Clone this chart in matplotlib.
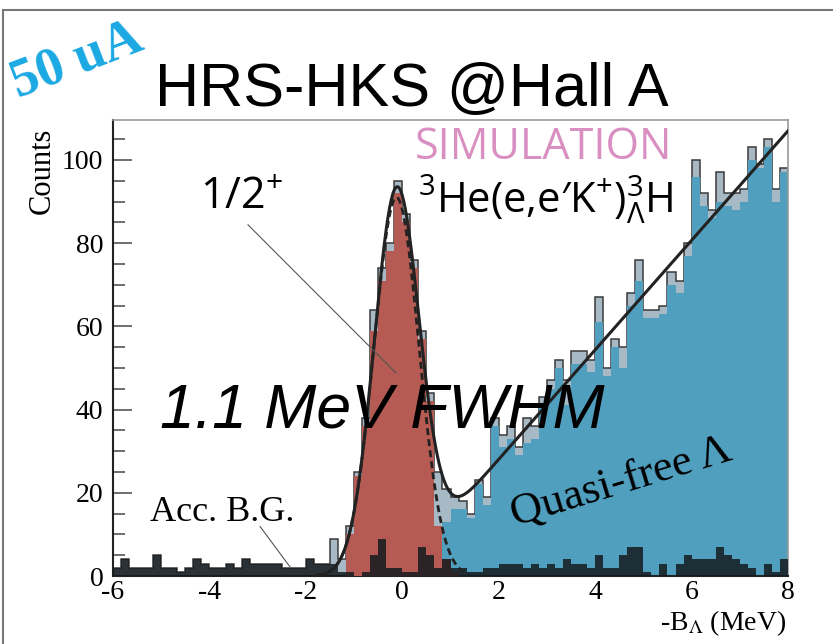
import math
import numpy as np
import matplotlib.pyplot as plt

plt.rcParams['axes.unicode_minus'] = False
plt.rcParams['mathtext.fontset'] = 'custom'
plt.rcParams['mathtext.rm'] = 'Open Sans'
plt.rcParams['mathtext.it'] = 'Open Sans:italic'

W, H = 833, 644

# binning: 84 bins of 1/6 MeV from -6 to 8
edges = np.linspace(-6, 8, 85)

# total simulated spectrum
total = [2, 4, 2, 2, 2, 5, 2, 2, 1, 2, 4, 3, 2, 2, 3, 2, 4, 3, 3, 3,
         3, 2, 2, 2, 4, 3, 3, 9, 4, 12, 25, 38, 64, 74, 80, 95, 87, 76, 59, 44,
         25, 21, 19, 18, 15, 23, 19, 38, 34, 36, 31, 38, 36, 43, 47, 52, 47, 54, 54, 52,
         67, 50, 57, 55, 68, 76, 64, 64, 65, 73, 71, 80, 100, 92, 88, 97, 92, 92, 93, 103,
         99, 105, 93, 98]
# 1/2+ ground state peak
peak = [0] * 29 + [10, 24, 36, 59, 71, 78, 92, 85, 74, 57, 42, 12, 4, 1] + [0] * 41
# quasi-free Lambda production
quasi = [0] * 41 + [13, 16, 16, 14, 22, 17, 36, 31, 33, 29, 32, 33, 41, 45, 50, 41, 51, 51, 49,
                    61, 48, 55, 50, 65, 71, 62, 62, 63, 70, 68, 77, 96, 89, 86, 90, 89, 88, 90, 100,
                    98, 103, 90, 97]
# accidental background
acc_bg = [2, 4, 2, 2, 2, 5, 2, 2, 1, 2, 4, 3, 2, 2, 3, 2, 4, 3, 3, 3,
          3, 2, 2, 2, 4, 3, 3, 3, 1, 1, 0, 1, 5, 9, 2, 2, 1, 1, 7, 5,
          2, 4, 2, 2, 1, 1, 2, 2, 3, 3, 3, 2, 3, 2, 3, 2, 4, 3, 3, 2,
          5, 2, 2, 5, 7, 7, 1, 0, 3, 0, 3, 5, 4, 4, 4, 7, 5, 4, 3, 2,
          0, 3, 1, 4]

# fit: gaussian peak + resolution-smeared linear quasi-free rise
gaus_amp, gaus_mean, gaus_sigma = 91.0, -0.12, 0.467
qf_slope, qf_thr = 13.16, -0.13


def gaus(x):
    return gaus_amp * np.exp(-0.5 * ((x - gaus_mean) / gaus_sigma) ** 2)


def qf(x):
    z = (x - qf_thr) / gaus_sigma
    phi = np.exp(-0.5 * z ** 2) / np.sqrt(2 * np.pi)
    Phi = 0.5 * (1 + np.array([math.erf(v / np.sqrt(2)) for v in z]))
    return qf_slope * ((x - qf_thr) * Phi + gaus_sigma * phi)


def fx(px):
    return px / W


def fy(py):
    return 1 - py / H


fig = plt.figure(figsize=(W / 100, H / 100), dpi=100)
ax = fig.add_axes([fx(113), fy(576), fx(788) - fx(113), fy(120) - fy(576)])

ax.stairs(total, edges, fill=True, color='#a8b9c6', zorder=1)
ax.stairs(total, edges, color='#3a3a3a', lw=1.1, zorder=1.5)
ax.stairs(quasi, edges, fill=True, color='#519fbf', zorder=2)
ax.stairs(peak, edges, fill=True, color='#b65b53', zorder=3)
ax.stairs(acc_bg, edges, fill=True, color='#141a1e', alpha=0.85, zorder=4)

xs = np.linspace(-1.8, 8, 600)
ax.plot(xs, gaus(xs) + qf(xs), color='#222222', lw=2.2, zorder=5)
xd = np.linspace(-1.8, 1.4, 300)
ax.plot(xd, gaus(xd), color='#222222', lw=2.0, ls=(0, (2.5, 1.5)), zorder=5)

# leader lines for the labels
ax.plot([-3.2, -0.13], [84.4, 48.8], color='#555555', lw=0.8, zorder=6)
ax.plot([-2.95, -2.33], [11.9, 2.2], color='#555555', lw=0.8, zorder=6)

ax.set_xlim(-6, 8)
ax.set_ylim(0, 109.6)
ax.set_xticks(range(-6, 9, 2))
ax.set_yticks(range(0, 101, 20))
ax.set_yticks(range(0, 106, 5), minor=True)
ax.tick_params(axis='y', which='major', direction='in', length=14, width=1.2, color='#555555', pad=7)
ax.tick_params(axis='y', which='minor', direction='in', length=8.5, width=1.2, color='#555555')
ax.tick_params(axis='x', which='both', length=0, pad=3)
for lab in ax.get_xticklabels() + ax.get_yticklabels():
    lab.set_family('Liberation Serif')
    lab.set_fontsize(20)
for s in ['left', 'bottom']:
    ax.spines[s].set_color('#222222')
    ax.spines[s].set_linewidth(1.5)
for s in ['top', 'right']:
    ax.spines[s].set_color('#999999')
    ax.spines[s].set_linewidth(1.2)

serif = 'Liberation Serif'
fig.text(fx(42), fy(128), 'Counts', rotation=90, ha='center', va='top', family=serif, fontsize=22)
fig.text(fx(786), fy(630), r'-B$_{\Lambda}$ (MeV)', ha='right', va='baseline', family=serif,
         fontsize=20, math_fontfamily='stix')

fig.text(fx(155), fy(106), 'HRS-HKS @Hall A', family='Liberation Sans', fontsize=44,
         va='baseline', ha='left')
fig.text(fx(18), fy(98), '50 uA', family=serif, fontweight='bold', fontsize=39,
         color='#1ba9e3', rotation=21, rotation_mode='anchor', ha='left', va='baseline')
fig.text(fx(415), fy(159), 'SIMULATION', family='Open Sans', fontsize=31, color='#d98fc2',
         va='baseline', ha='left')
fig.text(fx(418), fy(213), "$^{3}$He(e,e\u2032K$^{+}$)$^{3}_{\\Lambda}$H", family='Open Sans',
         fontsize=30, va='baseline', ha='left', math_fontfamily='custom')
fig.text(fx(200), fy(208), '1/2$^{+}$', family='Open Sans', fontsize=31, va='baseline', ha='left',
         math_fontfamily='custom')
fig.text(fx(160), fy(428), '1.1 MeV FWHM', family='Liberation Sans', style='italic', fontsize=45,
         va='baseline', ha='left', zorder=7)
fig.text(fx(150), fy(521), 'Acc. B.G.', family=serif, fontsize=26, va='baseline', ha='left')
fig.text(fx(515), fy(526), 'Quasi-free \u039b', family=serif, fontsize=32, rotation=17,
         rotation_mode='anchor', va='baseline', ha='left')

# outer frame
fig.add_artist(plt.Line2D([fx(3), fx(833)], [fy(10), fy(10)], color='#777777', lw=1.5))
fig.add_artist(plt.Line2D([fx(3), fx(3)], [fy(10), fy(644)], color='#777777', lw=1.5))

fig.savefig('out.png', dpi=100)
